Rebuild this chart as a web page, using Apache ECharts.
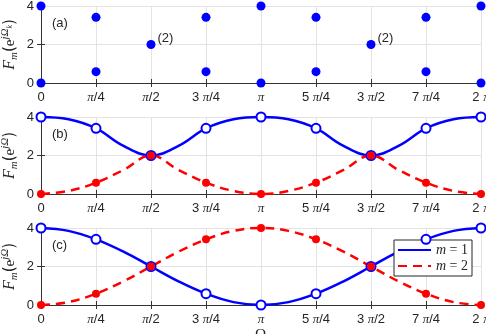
<!DOCTYPE html>
<html>
<head>
<meta charset="utf-8">
<script src="https://cdn.jsdelivr.net/npm/echarts@6/dist/echarts.min.js"></script>
<style>
  html, body { margin: 0; padding: 0; background: #fff; }
  #chart { width: 486px; height: 334px; }
</style>
</head>
<body>
<div id="chart"></div>
<script>
// x positions are in units of pi/4
const tickPos = [0, 1, 2, 3, 4, 5, 6, 7, 8];
const tickLabels = ['0', '{p|π}/4', '{p|π}/2', '3 {p|π}/4', '{p|π}', '5 {p|π}/4', '3 {p|π}/2', '7 {p|π}/4', '2 {p|π}'];
const curvePos = [0, 0.5, 1, 1.5, 2, 2.5, 3, 3.5, 4, 4.5, 5, 5.5, 6, 6.5, 7, 7.5, 8];

// panel (a): sample values at each tick
const aUpper = [4, 3.41, 2, 3.41, 4, 3.41, 2, 3.41, 4];
const aLower = [0, 0.59, null, 0.59, 0, 0.59, null, 0.59, 0];
const aMultiplicity = ['', '', '(2)', '', '', '', '(2)', '', ''];

// panel (b)
const bM1Curve = [4, 3.88, 3.41, 2.5, 2, 2.5, 3.41, 3.88, 4, 3.88, 3.41, 2.5, 2, 2.5, 3.41, 3.88, 4];
const bM2Curve = [0, 0.16, 0.59, 1.25, 2, 1.25, 0.59, 0.16, 0, 0.16, 0.59, 1.25, 2, 1.25, 0.59, 0.16, 0];
const bM1Marks = [4, 3.41, 2, 3.41, 4, 3.41, 2, 3.41, 4];
const bM2Marks = [0, 0.59, 2, 0.59, 0, 0.59, 2, 0.59, 0];

// panel (c)
const cM1Curve = [4, 3.85, 3.41, 2.77, 2, 1.23, 0.59, 0.15, 0, 0.15, 0.59, 1.23, 2, 2.77, 3.41, 3.85, 4];
const cM2Curve = [0, 0.15, 0.59, 1.23, 2, 2.77, 3.41, 3.85, 4, 3.85, 3.41, 2.77, 2, 1.23, 0.59, 0.15, 0];
const cM1Marks = [4, 3.41, 2, 0.59, 0, 0.59, 2, 3.41, 4];
const cM2Marks = [0, 0.59, 2, 3.41, 4, 3.41, 2, 0.59, 0];

const panelNames = ['(a)', '(b)', '(c)'];
const yNames = [
    '{f|F}{s|m}{b|(}{e|e}{u|jΩ}{k|k}{b|)}',
    '{f|F}{s|m}{b|(}{e|e}{u|jΩ}{b|)}',
    '{f|F}{s|m}{b|(}{e|e}{u|jΩ}{b|)}',
];
const legendNames = ['m = 1', 'm = 2'];

const BLUE = '#0000ff';
const RED = '#ff0000';
const AXIS = '#333333';
const GRIDC = '#e3e3e3';
const TXT = '#262626';
const tops = [6, 117, 228];

const pairs = (xs, ys) => xs.map((x, i) => [x, ys[i]]);

const grids = tops.map(t => ({ left: 41, width: 440, top: t, height: 77, outerBoundsMode: 'none', containLabel: false }));

const xAxes = [];
const yAxes = [];
tops.forEach((t, i) => {
    xAxes.push({
        type: 'value', gridIndex: i, min: 0, max: 8, interval: 1,
        axisLine: { lineStyle: { color: AXIS } },
        axisTick: { inside: true, length: 4, lineStyle: { color: AXIS } },
        splitLine: { show: true, lineStyle: { color: GRIDC } },
        axisLabel: {
            margin: 8, color: TXT, fontSize: 13, fontFamily: 'Liberation Sans',
            hideOverlap: false, showMinLabel: true, showMaxLabel: true,
            formatter: v => tickLabels[tickPos.indexOf(v)] || '',
            rich: { p: { fontFamily: 'Liberation Serif', fontStyle: 'italic', fontSize: 13, color: TXT } },
        },
    });
    xAxes.push({
        type: 'value', gridIndex: i, position: 'top', min: 0, max: 8, interval: 1,
        axisLine: { lineStyle: { color: AXIS } },
        axisTick: { inside: true, length: 4, lineStyle: { color: AXIS } },
        splitLine: { show: false },
        axisLabel: { show: false },
    });
    yAxes.push({
        type: 'value', gridIndex: i, min: 0, max: 4, interval: 2,
        axisLine: { show: true, lineStyle: { color: AXIS } },
        axisTick: { show: true, inside: true, length: 4, lineStyle: { color: AXIS } },
        splitLine: { show: true, lineStyle: { color: GRIDC } },
        axisLabel: { margin: 7, color: TXT, fontSize: 13, fontFamily: 'Liberation Sans' },
        name: yNames[i], nameLocation: 'middle', nameRotate: 90, nameGap: 21, nameMoveOverlap: false,
        nameTextStyle: {
            color: TXT,
            rich: {
                f: { fontFamily: 'Liberation Serif', fontStyle: 'italic', fontSize: 16, lineHeight: 20, color: TXT },
                s: { fontFamily: 'Liberation Serif', fontStyle: 'italic', fontSize: 11, lineHeight: 11, verticalAlign: 'bottom', color: TXT },
                b: { fontFamily: 'DejaVu Sans', fontSize: 15, lineHeight: 20, color: TXT },
                e: { fontFamily: 'Liberation Serif', fontSize: 15, lineHeight: 20, color: TXT },
                u: { fontFamily: 'Liberation Serif', fontStyle: 'italic', fontSize: 11, lineHeight: 11, verticalAlign: 'top', color: TXT },
                k: { fontFamily: 'Liberation Serif', fontStyle: 'italic', fontSize: 8, lineHeight: 8, verticalAlign: 'top', padding: [6, 0, 0, 0], color: TXT },
            },
        },
    });
    yAxes.push({
        type: 'value', gridIndex: i, position: 'right', min: 0, max: 4, interval: 2,
        axisLine: { show: true, lineStyle: { color: AXIS } },
        axisTick: { show: true, inside: true, length: 4, lineStyle: { color: AXIS } },
        splitLine: { show: false },
        axisLabel: { show: false },
    });
});

const curve = (name, panel, xs, ys, color, dashed) => ({
    name, type: 'line', xAxisIndex: panel * 2, yAxisIndex: panel * 2,
    data: pairs(xs, ys), smooth: 0.4, symbol: 'none', showSymbol: false, clip: false,
    lineStyle: { color, width: 2.5, type: dashed ? [9, 6] : 'solid' },
    itemStyle: { color },
    z: 3,
});
const hollow = (panel, ys) => ({
    type: 'scatter', xAxisIndex: panel * 2, yAxisIndex: panel * 2,
    data: pairs(tickPos, ys), symbol: 'circle', symbolSize: 9, clip: false,
    itemStyle: { color: '#ffffff', borderColor: BLUE, borderWidth: 2, opacity: 1 },
    z: 4,
});
const filled = (panel, ys, color, size) => ({
    type: 'scatter', xAxisIndex: panel * 2, yAxisIndex: panel * 2,
    data: pairs(tickPos, ys).filter(p => p[1] !== null), symbol: 'circle', symbolSize: size, clip: false,
    itemStyle: { color, opacity: 1 },
    z: 5,
});

const series = [
    {
        type: 'scatter', xAxisIndex: 0, yAxisIndex: 0, clip: false, symbolSize: 9,
        itemStyle: { color: BLUE, opacity: 1 }, z: 5,
        data: tickPos.map((x, i) => ({
            value: [x, aUpper[i]],
            label: {
                show: aMultiplicity[i] !== '', formatter: aMultiplicity[i], position: 'right',
                distance: 2, offset: [0, -6], color: TXT, fontSize: 13, fontFamily: 'Liberation Sans',
            },
        })),
    },
    filled(0, aLower, BLUE, 9),
    curve('', 1, curvePos, bM1Curve, BLUE, false),
    curve('', 1, curvePos, bM2Curve, RED, true),
    hollow(1, bM1Marks),
    filled(1, bM2Marks, RED, 8),
    curve(legendNames[0], 2, curvePos, cM1Curve, BLUE, false),
    curve(legendNames[1], 2, curvePos, cM2Curve, RED, true),
    hollow(2, cM1Marks),
    filled(2, cM2Marks, RED, 8),
];

const graphics = tops.map((t, i) => ({
    type: 'text', left: 52, top: t + 11,
    style: { text: panelNames[i], fill: TXT, font: '13px "Liberation Sans"' },
}));
graphics.push({
    type: 'text', left: 255, top: 328,
    style: { text: 'Ω', fill: TXT, font: '15px "Liberation Serif"' },
});

const chart = echarts.init(document.getElementById('chart'), null, { renderer: 'canvas' });
chart.setOption({
    animation: false,
    backgroundColor: '#ffffff',
    grid: grids,
    xAxis: xAxes,
    yAxis: yAxes,
    legend: {
        data: legendNames,
        orient: 'vertical', left: 394, top: 240,
        itemWidth: 33, itemHeight: 12, itemGap: 2,
        padding: [3, 4, 3, 3],
        backgroundColor: '#ffffff',
        borderColor: TXT, borderWidth: 1, borderRadius: 0,
        itemStyle: { opacity: 0 },
        formatter: n => '{i|m} = ' + n.slice(-1),
        textStyle: {
            color: TXT, fontFamily: 'Liberation Serif', fontSize: 14,
            rich: { i: { fontFamily: 'Liberation Serif', fontStyle: 'italic', fontSize: 14, color: TXT } },
        },
    },
    graphic: graphics,
    series,
});
</script>
</body>
</html>
